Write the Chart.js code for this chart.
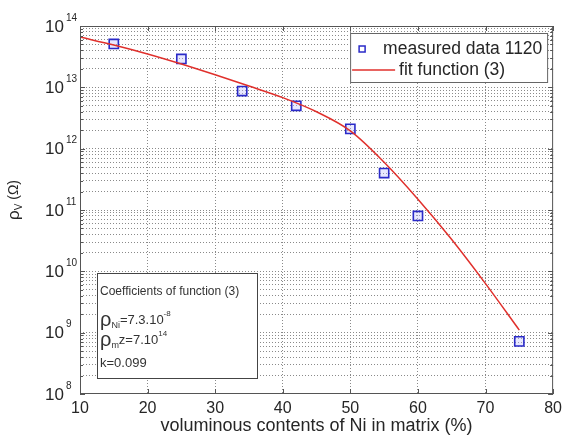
<!DOCTYPE html>
<html>
<head>
<meta charset="utf-8">
<script src="https://cdn.jsdelivr.net/npm/chart.js@4/dist/chart.umd.min.js"></script>
<style>
  html, body { margin: 0; padding: 0; background: #fff; }
  #wrap { width: 567px; height: 437px; }
</style>
</head>
<body>
<div id="wrap"><canvas id="chart" width="567" height="437"></canvas></div>
<script>
  // measured points (x in %, rho in Ohm)
  const measuredX = [15, 25, 34, 42, 50, 55, 60, 75];
  const measuredRho = [5.1e13, 2.9e13, 8.7e12, 5.0e12, 2.1e12, 4.0e11, 8.0e10, 7.2e8];

  // fit function (3)
  const fitX = [10, 15, 20, 25, 30, 35, 40, 45, 50, 55, 60, 65, 70, 75];
  const fitRho = [6.6e13, 4.9e13, 3.5e13, 2.4e13, 1.6e13, 1.05e13, 6.8e12, 4.0e12, 1.95e12, 6.0e11, 1.5e11, 3.3e10, 6.3e9, 1.1e9];

  const xTicks = [10, 20, 30, 40, 50, 60, 70, 80];
  const yDecades = [8, 9, 10, 11, 12, 13, 14];

  const legendLabels = ["measured data 1120", "fit function (3)"];
  const coefLines = [
    [{ t: "Coefficients of function (3)", s: 12 }],
    [{ t: "ρ", s: 20 }, { t: "Ni", s: 9, dy: 6 }, { t: "=7.3.10", s: 13 }, { t: "-8", s: 8, dy: -6 }],
    [{ t: "ρ", s: 20 }, { t: "m", s: 9, dy: 6 }, { t: "z=7.10", s: 13 }, { t: "14", s: 8, dy: -6 }],
    [{ t: "k=0.099", s: 13 }],
  ];

  const FONT = "Arial, 'Liberation Sans', sans-serif";
  const TXT = "#262626";
  const GRID = "#8a8a8a";

  function drawRuns(ctx, x, y, runs) {
    let cx = x;
    runs.forEach((r) => {
      ctx.font = `${r.s}px ${FONT}`;
      ctx.fillText(r.t, cx, y + (r.dy || 0));
      cx += ctx.measureText(r.t).width;
    });
    return cx - x;
  }

  const decorPlugin = {
    id: "decor",
    afterDraw(chart) {
      const { ctx, chartArea: a, scales } = chart;
      const xs = scales.x, ys = scales.y;
      ctx.save();

      // frame
      ctx.strokeStyle = "#555";
      ctx.lineWidth = 1;
      ctx.strokeRect(a.left + 0.5, a.top + 0.5, a.right - a.left - 1, a.bottom - a.top - 1);

      // inward ticks
      ctx.beginPath();
      xTicks.forEach((v) => {
        const px = Math.round(xs.getPixelForValue(v)) + 0.5;
        ctx.moveTo(px, a.bottom); ctx.lineTo(px, a.bottom - 5);
        ctx.moveTo(px, a.top); ctx.lineTo(px, a.top + 5);
      });
      ys.ticks.forEach((t) => {
        const py = Math.round(ys.getPixelForValue(t.value)) + 0.5;
        const len = t.major ? 5 : 3;
        ctx.moveTo(a.left, py); ctx.lineTo(a.left + len, py);
        ctx.moveTo(a.right, py); ctx.lineTo(a.right - len, py);
      });
      ctx.stroke();

      // y tick labels 10^n
      ctx.fillStyle = TXT;
      ctx.textBaseline = "middle";
      yDecades.forEach((n) => {
        const py = ys.getPixelForValue(Math.pow(10, n));
        ctx.font = `17px ${FONT}`;
        ctx.textAlign = "right";
        ctx.fillText("10", a.left - 16, py + 1);
        ctx.font = `10px ${FONT}`;
        ctx.textAlign = "left";
        ctx.fillText(String(n), a.left - 14, py - 8);
      });

      // y axis title
      ctx.save();
      ctx.translate(14, 200);
      ctx.rotate(-Math.PI / 2);
      ctx.textAlign = "left";
      ctx.textBaseline = "middle";
      const runs = [{ t: "ρ", s: 17 }, { t: "V", s: 10, dy: 5 }, { t: " (Ω)", s: 14 }];
      let w = 0;
      runs.forEach((r) => { ctx.font = `${r.s}px ${FONT}`; w += ctx.measureText(r.t).width; });
      drawRuns(ctx, -w / 2, 0, runs);
      ctx.restore();

      // legend box
      const lx = a.right - 203, ly = a.top + 7, lw = 197, lh = 49;
      ctx.fillStyle = "#fff";
      ctx.fillRect(lx, ly, lw, lh);
      ctx.strokeStyle = "#666";
      ctx.strokeRect(lx + 0.5, ly + 0.5, lw, lh);
      const ds0 = chart.data.datasets[0], ds1 = chart.data.datasets[1];
      ctx.strokeStyle = ds0.borderColor;
      ctx.lineWidth = 1.5;
      ctx.strokeRect(lx + 9, ly + 13, 6, 6);
      ctx.strokeStyle = ds1.borderColor;
      ctx.beginPath();
      ctx.moveTo(lx + 2, ly + 37); ctx.lineTo(lx + 45, ly + 37);
      ctx.stroke();
      ctx.fillStyle = TXT;
      ctx.font = `17.5px ${FONT}`;
      ctx.textAlign = "left";
      ctx.fillText(legendLabels[0], lx + 33, ly + 16);
      ctx.fillText(legendLabels[1], lx + 49, ly + 37);

      // coefficients box
      const bx = a.left + 17, by = 273, bw = 160, bh = 105;
      ctx.fillStyle = "#fff";
      ctx.fillRect(bx, by, bw, bh);
      ctx.strokeStyle = "#444";
      ctx.lineWidth = 1;
      ctx.strokeRect(bx + 0.5, by + 0.5, bw, bh);
      ctx.fillStyle = "#333";
      ctx.textBaseline = "middle";
      const rowY = [292, 320, 340, 363];
      coefLines.forEach((line, i) => drawRuns(ctx, bx + 3, rowY[i], line));

      ctx.restore();
    },
  };

  new Chart(document.getElementById("chart"), {
    type: "scatter",
    data: {
      datasets: [
        {
          label: legendLabels[0],
          data: measuredX.map((x, i) => ({ x, y: measuredRho[i] })),
          pointStyle: "rect",
          pointRadius: 6.5,
          pointBorderWidth: 1.6,
          borderColor: "#2a2ac8",
          backgroundColor: "rgba(190,190,255,0.35)",
          order: 1,
        },
        {
          label: legendLabels[1],
          data: fitX.map((x, i) => ({ x, y: fitRho[i] })),
          showLine: true,
          pointRadius: 0,
          borderColor: "#e0302c",
          borderWidth: 1.5,
          cubicInterpolationMode: "monotone",
          order: 0,
        },
      ],
    },
    options: {
      responsive: false,
      animation: false,
      layout: { padding: { top: 26, right: 7, left: 0, bottom: 0 } },
      plugins: { legend: { display: false }, tooltip: { enabled: false } },
      scales: {
        x: {
          type: "linear",
          min: 10,
          max: 80,
          afterBuildTicks: (scale) => { scale.ticks = xTicks.map((v) => ({ value: v })); },
          afterFit: (scale) => { scale.height = 43; },
          ticks: { color: TXT, font: { size: 16, family: FONT }, padding: 5, maxRotation: 0 },
          grid: {
            drawTicks: false,
            color: (c) => (c.tick && (c.tick.value === 10 || c.tick.value === 80) ? "rgba(0,0,0,0)" : GRID),
            lineWidth: 1,
          },
          border: { display: false, dash: [1, 2] },
          title: {
            display: true,
            text: "voluminous contents of Ni in matrix (%)",
            color: TXT,
            font: { size: 18, family: FONT },
            padding: { top: 0, bottom: 0 },
          },
        },
        y: {
          type: "logarithmic",
          min: 1e8,
          max: 1e14,
          afterBuildTicks: (scale) => {
            const t = [];
            yDecades.forEach((n) => {
              for (let m = 1; m <= 9; m++) {
                const v = m * Math.pow(10, n);
                if (v <= 1e14) t.push({ value: v, major: m === 1 });
              }
            });
            scale.ticks = t;
          },
          afterFit: (scale) => { scale.width = 80; },
          ticks: { display: false },
          grid: {
            drawTicks: false,
            color: (c) => (c.tick && (c.tick.value === 1e8 || c.tick.value === 1e14) ? "rgba(0,0,0,0)" : GRID),
            lineWidth: 1,
          },
          border: { display: false, dash: [1, 2] },
        },
      },
    },
    plugins: [decorPlugin],
  });
</script>
</body>
</html>
